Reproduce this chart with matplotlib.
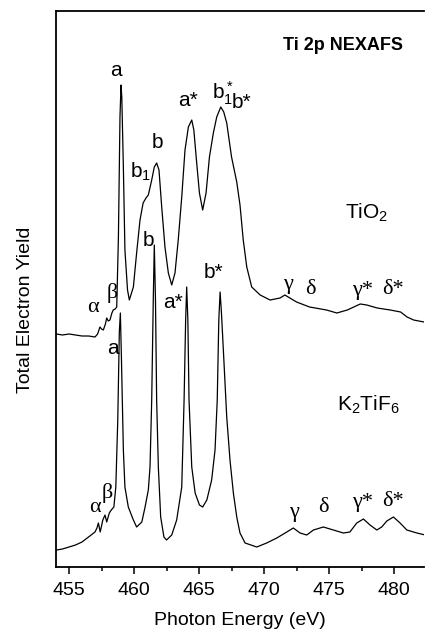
import matplotlib.pyplot as plt
from matplotlib.ticker import MultipleLocator

plt.rcParams['font.family'] = ['Liberation Sans', 'DejaVu Sans']
plt.rcParams['mathtext.fontset'] = 'custom'
plt.rcParams['mathtext.rm'] = 'Liberation Sans'
plt.rcParams['mathtext.it'] = 'Liberation Sans'

# TiO2 spectrum (photon energy in eV, yield in arbitrary units)
tio2_e = [454.05, 454.5, 455.0, 455.5, 456.0, 456.5, 457.0, 457.2, 457.38, 457.5,
          457.64, 457.8, 457.9, 458.02, 458.15, 458.3, 458.4, 458.55, 458.67, 458.8,
          458.92, 459.0, 459.06, 459.18, 459.3, 459.5, 459.64, 459.95, 460.2, 460.46,
          460.7, 460.92, 461.1, 461.36, 461.56, 461.74, 461.92, 462.13, 462.38, 462.64,
          462.9, 463.15, 463.4, 463.67, 463.92, 464.18, 464.44, 464.6, 464.8, 465.03,
          465.28, 465.54, 465.8, 466.1, 466.36, 466.67, 466.9, 467.13, 467.5, 467.9,
          468.15, 468.4, 468.67, 469.05, 469.7, 470.46, 471.23, 471.6, 472.5, 473.5,
          474.8, 475.6, 476.4, 477.4, 477.9, 478.7, 479.7, 480.5, 481.0, 481.5, 482.3]
tio2_y = [233, 232, 233, 232, 231, 231, 230, 233, 240, 238,
          237, 243, 249, 246, 247, 254, 257, 258, 260, 330,
          450, 482, 470, 400, 317, 277, 267, 280, 314, 347,
          364, 369, 372, 387, 400, 404, 397, 360, 320, 294,
          282, 294, 327, 370, 417, 440, 447, 437, 407, 374,
          357, 374, 410, 434, 450, 460, 455, 444, 410, 385,
          362, 327, 300, 280, 272, 267, 269, 272, 265, 260,
          257, 254, 257, 263, 262, 259, 257, 255, 250, 247, 245]

# K2TiF6 spectrum
k2tif6_e = [454.05, 454.5, 455.0, 455.5, 456.0, 456.5, 457.0, 457.15, 457.26, 457.4,
            457.6, 457.77, 457.9, 458.1, 458.25, 458.45, 458.6, 458.75, 458.87, 458.95,
            459.03, 459.18, 459.3, 459.56, 459.95, 460.2, 460.6, 460.85, 461.1, 461.23,
            461.36, 461.48, 461.56, 461.65, 461.74, 461.87, 462.05, 462.3, 462.5, 462.9,
            463.28, 463.67, 463.85, 463.97, 464.05, 464.14, 464.23, 464.44, 464.7, 465.03,
            465.28, 465.6, 465.97, 466.23, 466.4, 466.52, 466.62, 466.72, 466.87, 467.13,
            467.38, 467.64, 467.9, 468.15, 468.54, 469.44, 470.2, 470.98, 471.75, 472.25,
            472.77, 473.28, 473.8, 474.56, 475.33, 476.1, 476.6, 477.13, 477.64, 478.15,
            478.67, 479.05, 479.44, 479.95, 480.46, 480.98, 481.75, 482.4]
k2tif6_y = [17, 18, 20, 22, 25, 30, 35, 39, 44, 35,
            47, 52, 45, 54, 57, 60, 80, 147, 235, 254,
            210, 117, 80, 60, 47, 40, 45, 60, 77, 100,
            167, 267, 322, 267, 167, 100, 50, 30, 27, 32,
            47, 80, 167, 247, 280, 247, 167, 100, 74, 62,
            60, 67, 87, 117, 167, 247, 275, 255, 217, 150,
            107, 74, 50, 34, 24, 20, 24, 29, 35, 39,
            34, 32, 37, 40, 37, 34, 35, 44, 48, 42,
            37, 40, 46, 50, 44, 37, 34, 32]

# peak labels: (text, energy, height)
sans_labels = [('a', 458.62, 497), ('b$_1$', 460.5, 395), ('b', 461.77, 425),
               ('a*', 464.15, 467), ('b$_1^*$', 466.8, 474), ('b*', 468.25, 465),
               ('a', 458.38, 219), ('b', 461.08, 327), ('a*', 463.0, 264),
               ('b*', 466.08, 294)]
greek_labels = [('α', 456.85, 259), ('β', 458.31, 274),
                ('γ', 471.85, 282), ('δ', 473.54, 277), ('γ*', 477.54, 277), ('δ*', 479.92, 277),
                ('α', 457.0, 60), ('β', 457.92, 74),
                ('γ', 472.3, 55), ('δ', 474.54, 59), ('γ*', 477.54, 64), ('δ*', 479.92, 65)]

fig = plt.figure(figsize=(4.25, 6.33), dpi=100)
ax = fig.add_axes([56 / 425, 66 / 633, 368 / 425, 556 / 633])

ax.plot(tio2_e, tio2_y, color='black', lw=0.9)
ax.plot(k2tif6_e, k2tif6_y, color='black', lw=0.9)

for txt, xe, yh in sans_labels:
    ax.text(xe, yh, txt, fontsize=15, ha='center', va='center')
for txt, xe, yh in greek_labels:
    ax.text(xe, yh, txt, fontsize=16, ha='center', va='center', family='Liberation Serif')

ax.text(477.9, 354, 'TiO$_2$', fontsize=15, ha='center', va='center')
ax.text(478.0, 162, 'K$_2$TiF$_6$', fontsize=15, ha='center', va='center')
ax.text(476.05, 522, 'Ti 2p NEXAFS', fontsize=13, fontweight='bold', ha='center', va='center',
        family=['Liberation Sans Narrow', 'Liberation Sans'])

ax.set_xlim(454, 482.3)
ax.set_ylim(0, 556)
ax.xaxis.set_major_locator(MultipleLocator(5))
ax.xaxis.set_minor_locator(MultipleLocator(2.5))
ax.tick_params(axis='x', which='major', direction='out', length=5, width=1.1, labelsize=14, pad=6)
ax.tick_params(axis='x', which='minor', direction='out', length=3, width=1.1)
ax.set_yticks([])
ax.spines['right'].set_visible(False)
for s in ['left', 'bottom', 'top']:
    ax.spines[s].set_linewidth(1.3)

ax.set_xlabel('Photon Energy (eV)', fontsize=14, labelpad=9)
ax.set_ylabel('Total Electron Yield', fontsize=14)
ax.yaxis.set_label_coords(-0.06, 0.462)

fig.savefig('out.png', dpi=100)
